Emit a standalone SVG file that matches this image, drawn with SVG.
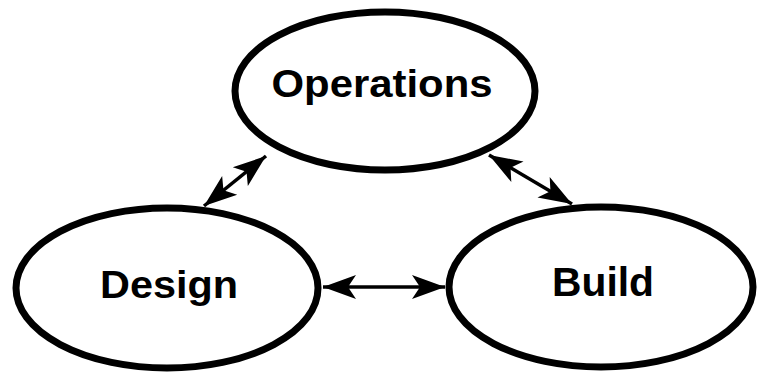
<svg xmlns="http://www.w3.org/2000/svg" width="759" height="375" viewBox="0 0 759 375">
<style>
.node ellipse{fill:#fff;stroke:#000;stroke-width:7}
.node text{font-family:"Liberation Sans",Arial,Helvetica,sans-serif;font-weight:bold;fill:#000;text-anchor:middle}
.conn line{stroke:#000;stroke-width:3.5;fill:none;marker-start:url(#head);marker-end:url(#head)}
</style>
<defs>
<marker id="head" markerUnits="userSpaceOnUse" viewBox="-36 -14 38 28" refX="0" refY="0" markerWidth="38" markerHeight="28" orient="auto-start-reverse">
<path d="M0,0 L-33,-12 L-25,0 L-33,12 Z" fill="#000"/>
</marker>
</defs>
<rect width="759" height="375" fill="#fff"/>
<g id="operations" class="node">
<ellipse cx="385" cy="91" rx="150" ry="79"/>
<text x="382" y="97" font-size="38" textLength="221" lengthAdjust="spacingAndGlyphs">Operations</text>
</g>
<g id="design" class="node">
<ellipse cx="167" cy="288" rx="151" ry="80"/>
<text x="169" y="298" font-size="39" textLength="138" lengthAdjust="spacingAndGlyphs">Design</text>
</g>
<g id="build" class="node">
<ellipse cx="601" cy="287" rx="152" ry="80"/>
<text x="603" y="296" font-size="40" textLength="102" lengthAdjust="spacingAndGlyphs">Build</text>
</g>
<g id="connectors" class="conn">
<line x1="204" y1="206" x2="266" y2="156"/>
<line x1="489" y1="155" x2="572" y2="204"/>
<line x1="323" y1="287" x2="445" y2="287"/>
</g>
</svg>
